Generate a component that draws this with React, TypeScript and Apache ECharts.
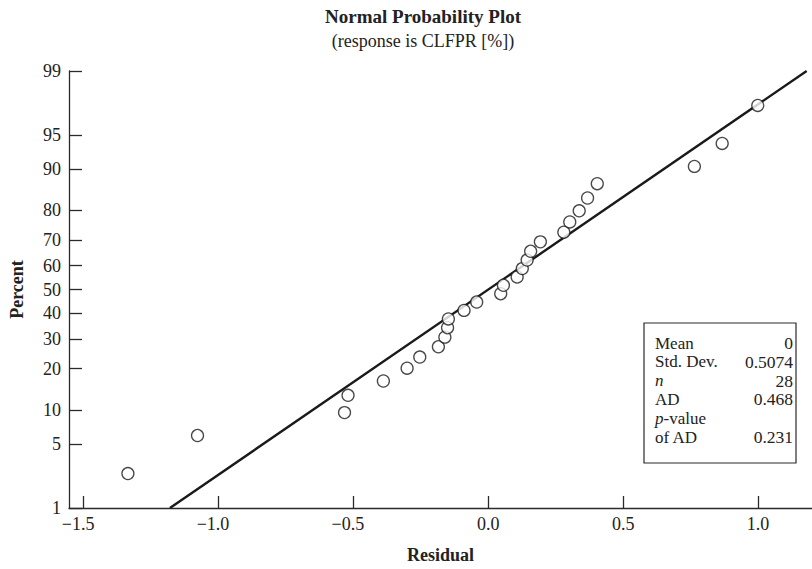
import React, { useEffect, useRef } from "react";
import * as echarts from "echarts";

// Residuals (x) and plotted percentiles (y)
const residuals = [
  -1.336, -1.078, -0.533, -0.52, -0.389, -0.301, -0.254, -0.185, -0.161, -0.151,
  -0.148, -0.09, -0.043, 0.046, 0.056, 0.107, 0.126, 0.144, 0.157, 0.193,
  0.28, 0.302, 0.337, 0.368, 0.404, 0.764, 0.867, 0.999,
];
const percents = [
  2.5, 6.0, 9.5, 13.0, 16.5, 20.1, 23.6, 27.1, 30.6, 34.2,
  37.7, 41.2, 44.7, 48.2, 51.8, 55.3, 58.8, 62.3, 65.8, 69.4,
  72.9, 76.4, 79.9, 83.5, 87.0, 90.5, 94.0, 97.5,
];
// Fitted normal line endpoints (residual, percent)
const fitX = [-1.1802, 1.1802];
const fitP = [1, 99];

const yTickPercents = [1, 5, 10, 20, 30, 40, 50, 60, 70, 80, 90, 95, 99];
const yTickLabels = ["1", "5", "10", "20", "30", "40", "50", "60", "70", "80", "90", "95", "99"];
const xTicks = [-1.5, -1.0, -0.5, 0.0, 0.5, 1.0];
const xTickLabels = ["−1.5", "−1.0", "−0.5", "0.0", "0.5", "1.0"];

const statNames = ["Mean", "Std. Dev.", "{i|n}", "AD", "{i|p}-value", "of AD"];
const statValues = ["0", "0.5074", "28", "0.468", "", "0.231"];

// Inverse standard normal CDF (Acklam)
function probit(p: number): number {
  const a = [-3.969683028665376e1, 2.209460984245205e2, -2.759285104469687e2, 1.38357751867269e2, -3.066479806614716e1, 2.506628277459239];
  const b = [-5.447609879822406e1, 1.615858368580409e2, -1.556989798598866e2, 6.680131188771972e1, -1.328068155288572e1];
  const c = [-7.784894002430293e-3, -3.223964580411365e-1, -2.400758277161838, -2.549732539343734, 4.374664141464968, 2.938163982698783];
  const d = [7.784695709041462e-3, 3.224671290700398e-1, 2.445134137142996, 3.754408661907416];
  const pl = 0.02425;
  let q: number, r: number;
  if (p < pl) {
    q = Math.sqrt(-2 * Math.log(p));
    return (((((c[0] * q + c[1]) * q + c[2]) * q + c[3]) * q + c[4]) * q + c[5]) /
      ((((d[0] * q + d[1]) * q + d[2]) * q + d[3]) * q + 1);
  }
  if (p <= 1 - pl) {
    q = p - 0.5;
    r = q * q;
    return ((((((a[0] * r + a[1]) * r + a[2]) * r + a[3]) * r + a[4]) * r + a[5]) * q) /
      (((((b[0] * r + b[1]) * r + b[2]) * r + b[3]) * r + b[4]) * r + 1);
  }
  q = Math.sqrt(-2 * Math.log(1 - p));
  return -(((((c[0] * q + c[1]) * q + c[2]) * q + c[3]) * q + c[4]) * q + c[5]) /
    ((((d[0] * q + d[1]) * q + d[2]) * q + d[3]) * q + 1);
}

const FONT = "'Liberation Serif', 'DejaVu Serif', serif";

export default function App() {
  const ref = useRef<HTMLDivElement>(null);
  useEffect(() => {
    if (!ref.current) return;
    const chart = echarts.init(ref.current, undefined, { renderer: "svg" });
    const yTickZ = yTickPercents.map((p) => probit(p / 100));
    const zMin = probit(0.01);
    const zMax = probit(0.99);
    const pts = residuals.map((x, i) => [x, probit(percents[i] / 100)]);
    const line = fitX.map((x, i) => [x, probit(fitP[i] / 100)]);
    const axisColor = "#2a2a2a";

    const boxLeft = 644;
    const boxTop = 323;
    const boxW = 152;
    const boxH = 140;
    const rowH = 18.8;
    const graphics: any[] = [
      {
        type: "text",
        x: 423,
        y: 16,
        style: {
          text: "Normal Probability Plot",
          font: `bold 19px ${FONT}`,
          fill: "#222",
          textAlign: "center",
          textVerticalAlign: "middle",
        },
      },
      {
        type: "text",
        x: 423,
        y: 41,
        style: {
          text: "(response is CLFPR [%])",
          font: `18px ${FONT}`,
          fill: "#222",
          textAlign: "center",
          textVerticalAlign: "middle",
        },
      },
      {
        type: "rect",
        shape: { x: boxLeft, y: boxTop, width: boxW, height: boxH },
        style: { fill: "#fff", stroke: axisColor, lineWidth: 1.2 },
        z: 10,
      },
    ];
    statNames.forEach((name, i) => {
      graphics.push({
        type: "text",
        x: boxLeft + 11,
        y: boxTop + 20 + i * rowH,
        z: 11,
        style: {
          text: name,
          font: `17px ${FONT}`,
          fill: "#222",
          textAlign: "left",
          textVerticalAlign: "middle",
          rich: { i: { fontStyle: "italic", fontFamily: FONT, fontSize: 17, fill: "#222" } },
        },
      });
      if (statValues[i]) {
        graphics.push({
          type: "text",
          x: boxLeft + boxW - 3,
          y: boxTop + 20 + i * rowH,
          z: 11,
          style: {
            text: statValues[i],
            font: `17.5px ${FONT}`,
            fill: "#222",
            textAlign: "right",
            textVerticalAlign: "middle",
          },
        });
      }
    });

    chart.setOption({
      animation: false,
      backgroundColor: "#fff",
      grid: { left: 68, right: 0, top: 71, bottom: 59, containLabel: false },
      xAxis: {
        type: "value",
        min: -1.5544,
        max: 1.2,
        name: "Residual",
        nameLocation: "middle",
        nameGap: 38,
        nameTextStyle: { fontFamily: FONT, fontWeight: "bold", fontSize: 18, color: "#222" },
        axisLine: { show: true, onZero: false, lineStyle: { color: axisColor, width: 1.3 } },
        axisTick: { show: true, inside: true, length: 12, customValues: xTicks, lineStyle: { color: axisColor, width: 1.3 } },
        axisLabel: {
          customValues: xTicks,
          margin: 7,
          fontFamily: FONT,
          fontSize: 18,
          color: "#222",
          formatter: (v: number) => {
            let best = 0;
            xTicks.forEach((t, i) => {
              if (Math.abs(t - v) < Math.abs(xTicks[best] - v)) best = i;
            });
            const s = xTickLabels[best];
            return s.startsWith("−") ? `{n|${s}}` : s;
          },
          rich: { n: { fontFamily: FONT, fontSize: 18, color: "#222", padding: [0, 11, 0, 0] } },
        },
        splitLine: { show: false },
      },
      yAxis: {
        type: "value",
        min: zMin,
        max: zMax,
        name: "Percent",
        nameLocation: "middle",
        nameGap: 43,
        nameRotate: 90,
        nameTextStyle: { fontFamily: FONT, fontWeight: "bold", fontSize: 18, color: "#222" },
        axisLine: { show: true, onZero: false, lineStyle: { color: axisColor, width: 1.3 } },
        axisTick: { show: true, inside: true, length: 13, customValues: yTickZ, lineStyle: { color: axisColor, width: 1.3 } },
        axisLabel: {
          customValues: yTickZ,
          margin: 8,
          fontFamily: FONT,
          fontSize: 18,
          color: "#222",
          formatter: (v: number) => {
            let best = 0;
            yTickZ.forEach((t, i) => {
              if (Math.abs(t - v) < Math.abs(yTickZ[best] - v)) best = i;
            });
            return yTickLabels[best];
          },
        },
        splitLine: { show: false },
      },
      series: [
        {
          type: "line",
          data: line,
          symbol: "none",
          lineStyle: { color: "#1a1a1a", width: 2.4 },
          z: 2,
        },
        {
          type: "scatter",
          data: pts,
          symbol: "circle",
          symbolSize: 12,
          itemStyle: { color: "#fff", borderColor: "#1a1a1a", borderWidth: 1.3 },
          z: 3,
        },
      ],
      graphic: graphics,
    });
    return () => chart.dispose();
  }, []);
  return <div ref={ref} style={{ width: 812, height: 569, position: "absolute", left: 0, top: 0 }} />;
}
